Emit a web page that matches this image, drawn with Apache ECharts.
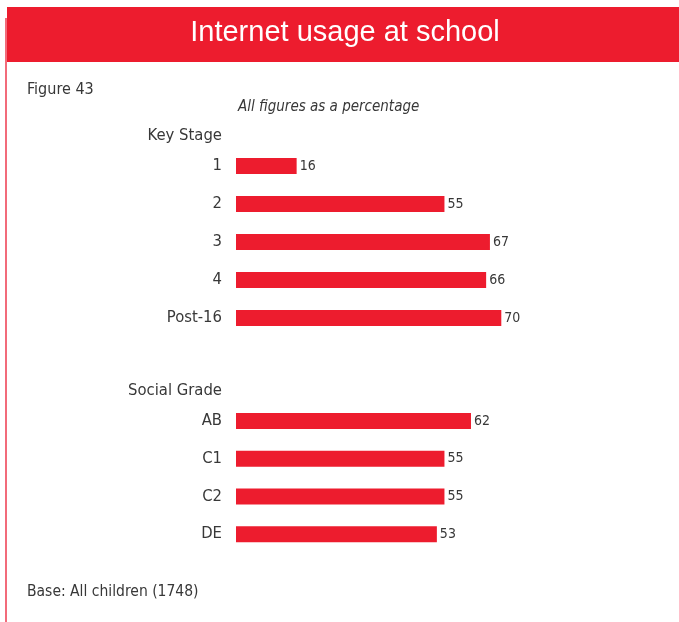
<!DOCTYPE html>
<html>
<head>
<meta charset="utf-8">
<script src="https://cdn.jsdelivr.net/npm/echarts@6/dist/echarts.min.js"></script>
<style>
html,body{margin:0;padding:0;background:#fff;}
#chart{width:679px;height:622px;}
</style>
</head>
<body>
<div id="chart"></div>
<script>
var keyStageCats = ['1', '2', '3', '4', 'Post-16'];
var keyStageVals = [16, 55, 67, 66, 70];
var gradeCats = ['AB', 'C1', 'C2', 'DE'];
var gradeVals = [62, 55, 55, 53];

var FONT = '"Liberation Sans Narrow", "Arial Narrow", "DejaVu Sans Condensed", sans-serif';
var RED = '#ED1C2E';
var TXT = '#383838';

var chart = echarts.init(document.getElementById('chart'));
var xAx = function (gi) {
  return {gridIndex: gi, type: 'value', min: 0, max: 100, show: false};
};
var yAx = function (gi, cats) {
  return {
    gridIndex: gi, type: 'category', data: cats, inverse: true,
    axisLine: {show: false}, axisTick: {show: false}, splitLine: {show: false},
    axisLabel: {color: TXT, fontFamily: FONT, fontSize: 16.5, margin: 14}
  };
};
var barS = function (gi, vals) {
  return {
    type: 'bar', xAxisIndex: gi, yAxisIndex: gi, data: vals, barWidth: 16,
    itemStyle: {color: RED},
    label: {show: true, position: 'right', distance: 3, color: TXT, fontFamily: FONT, fontSize: 14, padding: [2, 0, 0, 0]},
    silent: true
  };
};
chart.setOption({
  animation: false,
  grid: [
    {left: 236, width: 379, top: 147, height: 190},
    {left: 236, width: 379, top: 402, height: 151}
  ],
  xAxis: [xAx(0), xAx(1)],
  yAxis: [yAx(0, keyStageCats), yAx(1, gradeCats)],
  series: [barS(0, keyStageVals), barS(1, gradeVals)],
  graphic: [
    {type: 'rect', shape: {x: 7, y: 7, width: 672, height: 55}, style: {fill: RED}},
    {type: 'rect', shape: {x: 5, y: 18, width: 2, height: 604}, style: {fill: '#F26B7A'}},
    {type: 'text', x: 345, y: 33, style: {text: 'Internet usage at school', fill: '#fff', font: '500 29px "Liberation Sans", Arial, sans-serif', textAlign: 'center', textVerticalAlign: 'middle'}},
    {type: 'text', x: 27, y: 90, style: {text: 'Figure 43', fill: TXT, font: '16px ' + FONT, textVerticalAlign: 'middle'}},
    {type: 'text', x: 238, y: 107, style: {text: 'All figures as a percentage', fill: TXT, font: 'italic 15px ' + FONT, textVerticalAlign: 'middle'}},
    {type: 'text', x: 222, y: 136, style: {text: 'Key Stage', fill: TXT, font: '16.5px ' + FONT, textAlign: 'right', textVerticalAlign: 'middle'}},
    {type: 'text', x: 222, y: 391, style: {text: 'Social Grade', fill: TXT, font: '16.5px ' + FONT, textAlign: 'right', textVerticalAlign: 'middle'}},
    {type: 'text', x: 27, y: 592, style: {text: 'Base: All children (1748)', fill: TXT, font: '15.5px ' + FONT, textVerticalAlign: 'middle'}}
  ]
});
</script>
</body>
</html>
